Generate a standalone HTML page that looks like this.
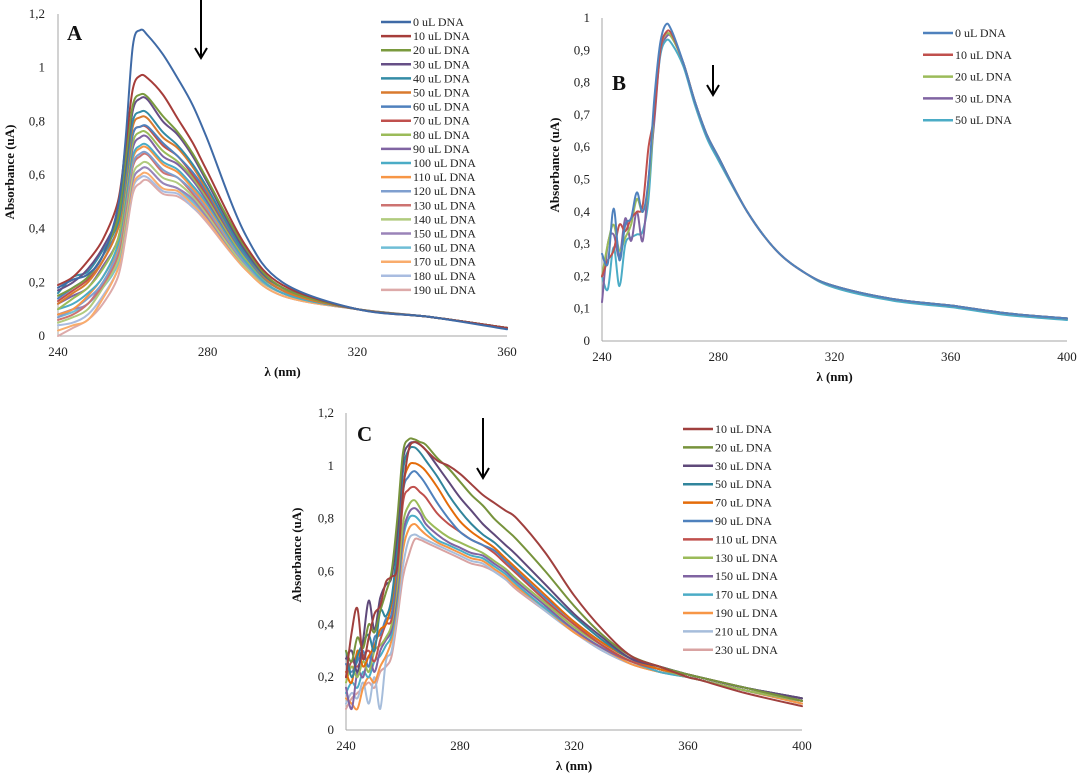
<!DOCTYPE html>
<html><head><meta charset="utf-8">
<style>
html,body{margin:0;padding:0;background:#fff;}
svg{display:block;font-family:"Liberation Serif",serif;}
</style></head>
<body>
<svg id="fig" width="1079" height="777" viewBox="0 0 1079 777" xmlns="http://www.w3.org/2000/svg"></svg>
<script>
// ---------- Panel A data ----------
const aWavelengths=[240,244,248,252,256,258,260,262,264,268,272,276,280,290,300,320,340,360];
const aLabels=["0 uL DNA","10 uL DNA","20 uL DNA","30 uL DNA","40 uL DNA","50 uL DNA","60 uL DNA","70 uL DNA","80 uL DNA","90 uL DNA","100 uL DNA","110 uL DNA","120 uL DNA","130 uL DNA","140 uL DNA","150 uL DNA","160 uL DNA","170 uL DNA","180 uL DNA","190 uL DNA"];
const aValues=[
[.18,.21,.23,.30,.48,.72,1.08,1.14,1.12,1.05,.96,.86,.73,.38,.20,.10,.07,.025],
[.19,.22,.28,.36,.50,.70,.92,.97,.96,.90,.81,.72,.61,.34,.19,.10,.07,.03],
[.15,.18,.22,.30,.44,.65,.86,.90,.89,.82,.76,.68,.58,.33,.18,.10,.07,.03],
[.17,.20,.25,.33,.45,.63,.84,.885,.88,.80,.75,.67,.57,.32,.18,.10,.07,.03],
[.16,.22,.24,.32,.42,.60,.80,.835,.83,.76,.71,.64,.55,.31,.18,.10,.07,.03],
[.12,.16,.20,.28,.40,.58,.78,.815,.81,.74,.70,.63,.54,.31,.17,.10,.07,.03],
[.14,.18,.22,.30,.40,.56,.75,.78,.78,.72,.67,.61,.53,.30,.17,.10,.07,.03],
[.13,.17,.21,.28,.40,.56,.75,.78,.775,.71,.67,.60,.52,.30,.17,.10,.07,.03],
[.10,.14,.18,.25,.36,.53,.72,.76,.755,.69,.65,.59,.51,.29,.17,.10,.07,.03],
[.12,.15,.18,.26,.36,.52,.70,.74,.74,.67,.64,.58,.50,.29,.17,.10,.07,.03],
[.10,.12,.16,.22,.34,.50,.67,.71,.71,.65,.62,.56,.49,.28,.16,.10,.07,.03],
[.08,.10,.15,.22,.33,.49,.66,.70,.70,.64,.61,.55,.48,.28,.16,.10,.07,.03],
[.07,.10,.14,.20,.32,.48,.64,.68,.68,.62,.59,.54,.47,.27,.16,.10,.07,.03],
[.06,.08,.12,.19,.30,.46,.63,.67,.675,.61,.59,.53,.46,.27,.16,.10,.07,.03],
[.05,.07,.10,.18,.28,.43,.60,.64,.645,.59,.57,.52,.45,.26,.16,.10,.07,.03],
[.08,.10,.12,.20,.28,.42,.58,.62,.625,.57,.55,.51,.44,.26,.16,.10,.07,.03],
[.07,.09,.12,.18,.27,.42,.58,.62,.625,.57,.55,.50,.44,.26,.16,.10,.07,.03],
[.02,.04,.06,.14,.25,.40,.56,.60,.605,.55,.54,.49,.43,.25,.15,.10,.07,.03],
[.04,.05,.08,.15,.25,.39,.55,.59,.59,.54,.53,.48,.43,.25,.15,.10,.07,.03],
[.00,.03,.06,.12,.22,.36,.53,.57,.58,.53,.52,.48,.42,.25,.15,.10,.07,.03]];
const aColors=["#3F6AA6","#A63D3A","#7A9A3E","#664F86","#348CA6","#D97A2E","#4F81BD","#C0504D","#9BBB59","#8064A2","#4BACC6","#F79646","#7F9FCF","#CD7371","#B1CB7E","#9A83B8","#6FBED6","#F9AC6C","#A9BCE0","#DDAAA9"];
const aXTicks=[240,280,320,360];
const aYTicks=[0,0.2,0.4,0.6,0.8,1,1.2];

// ---------- Panel B data ----------
const bWavelengths=[240,242,244,246,248,250,252,254,256,258,260,262,264,268,272,276,280,290,300,310,320,340,360,364,380,400];
const bLabels=["0 uL DNA","10 uL DNA","20 uL DNA","30 uL DNA","50 uL DNA"];
const bValues=[
[.27,.24,.41,.25,.36,.38,.46,.40,.50,.75,.92,.98,.96,.86,.74,.64,.57,.40,.28,.21,.17,.13,.11,.105,.085,.07],
[.20,.25,.28,.36,.34,.38,.40,.42,.60,.70,.90,.955,.95,.86,.74,.64,.57,.40,.28,.21,.17,.13,.11,.105,.085,.07],
[.20,.30,.36,.28,.32,.36,.44,.40,.48,.72,.90,.95,.94,.86,.74,.64,.57,.40,.28,.21,.17,.13,.11,.105,.085,.07],
[.12,.30,.33,.26,.38,.31,.40,.31,.50,.68,.89,.94,.94,.86,.74,.64,.57,.40,.28,.21,.17,.13,.11,.105,.085,.07],
[.20,.16,.29,.17,.30,.32,.33,.34,.44,.70,.88,.93,.92,.85,.73,.63,.56,.40,.28,.21,.165,.125,.105,.10,.08,.065]];
const bColors=["#4F81BD","#C0504D","#9BBB59","#8064A2","#4BACC6"];
const bXTicks=[240,280,320,360,400];
const bYTicks=[0,0.1,0.2,0.3,0.4,0.5,0.6,0.7,0.8,0.9,1];

// ---------- Panel C data ----------
const cWavelengths=[240,242,244,246,248,250,252,254,256,258,260,262,264,266,268,272,276,280,284,288,292,296,300,310,320,330,340,350,360,364,380,400];
const cLabels=["10 uL DNA","20 uL DNA","30 uL DNA","50 uL DNA","70 uL DNA","90 uL DNA","110 uL DNA","130 uL DNA","150 uL DNA","170 uL DNA","190 uL DNA","210 uL DNA","230 uL DNA"];
const cValues=[
[.20,.37,.46,.27,.35,.44,.47,.56,.58,.62,.90,1.06,1.09,1.08,1.06,1.02,1.00,.97,.93,.89,.86,.83,.80,.67,.51,.38,.28,.24,.20,.19,.14,.09],
[.30,.26,.35,.31,.40,.37,.45,.52,.60,.80,1.05,1.10,1.10,1.09,1.08,1.03,.99,.94,.89,.85,.80,.76,.72,.60,.47,.36,.28,.24,.21,.20,.16,.11],
[.27,.30,.22,.34,.49,.38,.50,.55,.58,.75,1.02,1.08,1.09,1.08,1.06,1.00,.94,.88,.83,.78,.74,.70,.66,.55,.44,.35,.27,.24,.21,.20,.16,.12],
[.30,.20,.28,.33,.36,.30,.45,.43,.50,.70,.98,1.06,1.07,1.05,1.02,.96,.89,.83,.78,.74,.71,.67,.63,.53,.43,.34,.27,.24,.21,.20,.16,.12],
[.22,.18,.30,.24,.28,.32,.38,.40,.48,.65,.92,1.00,1.01,1.00,.98,.92,.85,.79,.75,.72,.69,.65,.61,.51,.41,.33,.27,.23,.21,.20,.16,.12],
[.25,.22,.26,.30,.24,.35,.36,.42,.44,.62,.90,.96,.98,.96,.93,.86,.80,.75,.72,.70,.68,.64,.60,.50,.41,.33,.27,.23,.21,.20,.16,.12],
[.20,.26,.24,.28,.30,.26,.34,.40,.42,.60,.86,.91,.92,.90,.88,.82,.78,.75,.72,.70,.67,.63,.59,.49,.40,.32,.26,.23,.21,.20,.16,.11],
[.18,.24,.20,.26,.22,.30,.32,.35,.40,.55,.78,.85,.87,.84,.80,.76,.73,.71,.69,.67,.64,.61,.57,.48,.39,.32,.26,.23,.20,.19,.15,.11],
[.16,.08,.22,.20,.28,.22,.30,.34,.38,.52,.74,.82,.84,.82,.78,.74,.71,.69,.67,.66,.63,.60,.56,.47,.38,.31,.26,.23,.20,.19,.15,.11],
[.14,.18,.16,.22,.20,.26,.28,.32,.36,.50,.72,.80,.81,.79,.76,.72,.70,.68,.66,.65,.62,.59,.55,.46,.38,.31,.26,.22,.20,.19,.15,.11],
[.12,.10,.08,.16,.20,.18,.24,.28,.34,.48,.68,.76,.78,.76,.74,.71,.69,.67,.65,.64,.61,.58,.54,.46,.37,.31,.25,.22,.20,.19,.15,.10],
[.10,.14,.12,.18,.10,.20,.08,.26,.30,.45,.62,.72,.74,.73,.72,.70,.68,.66,.64,.63,.60,.57,.54,.45,.37,.30,.25,.22,.20,.19,.15,.10],
[.08,.12,.14,.16,.18,.16,.22,.24,.28,.42,.58,.66,.72,.72,.71,.69,.67,.65,.63,.62,.60,.57,.53,.45,.37,.30,.25,.22,.20,.19,.15,.10]];
const cColors=["#A0403E","#77933C","#5F497A","#31859C","#E46C0A","#4F81BD","#C0504D","#9BBB59","#8064A2","#4BACC6","#F79646","#A6BDDB","#D9A3A2"];
const cXTicks=[240,280,320,360,400];
const cYTicks=[0,0.2,0.4,0.6,0.8,1,1.2];

const NS="http://www.w3.org/2000/svg";
const svg=document.getElementById('fig');
function mk(tag,attrs,parent){const e=document.createElementNS(NS,tag);for(const k in attrs)e.setAttribute(k,attrs[k]);(parent||svg).appendChild(e);return e;}
function fmt(v){return String(Math.round(v*10)/10).replace('.',',');}
function smooth(pts){
  let d='M'+pts[0][0].toFixed(1)+','+pts[0][1].toFixed(1);
  for(let i=0;i<pts.length-1;i++){
    const p0=pts[i-1]||pts[i],p1=pts[i],p2=pts[i+1],p3=pts[i+2]||p2;
    const c1=[p1[0]+(p2[0]-p0[0])/6,p1[1]+(p2[1]-p0[1])/6];
    const c2=[p2[0]-(p3[0]-p1[0])/6,p2[1]-(p3[1]-p1[1])/6];
    d+=' C'+c1[0].toFixed(1)+','+c1[1].toFixed(1)+' '+c2[0].toFixed(1)+','+c2[1].toFixed(1)+' '+p2[0].toFixed(1)+','+p2[1].toFixed(1);
  }
  return d;
}

function panel(p){
  const g=mk('g',{});
  
  
  const sx=w=>p.x0+(w-p.xmin)/(p.xmax-p.xmin)*(p.x1-p.x0);
  const sy=v=>p.y0-(v-p.ymin)/(p.ymax-p.ymin)*(p.y0-p.y1);
  const yl=mk('line',{x1:p.x0,y1:p.y1,x2:p.x0,y2:p.y0,stroke:'#a6a6a6','stroke-width':1},g);
  
  
  const xl=mk('line',{x1:p.x0,y1:p.y0,x2:p.x1,y2:p.y0,stroke:'#a6a6a6','stroke-width':1},g);
  
  
  p.yTicks.forEach(v=>{
    const t=mk('text',{x:p.ytx,y:sy(v)+4,'text-anchor':'end','font-size':13,fill:'#222'},g);
    t.textContent=fmt(v);
    
    
  });
  p.xTicks.forEach(v=>{
    const t=mk('text',{x:sx(v),y:p.y0+20,'text-anchor':'middle','font-size':13,fill:'#222'},g);
    t.textContent=String(v);
    
    
  });
  const xt=mk('text',{x:(p.x0+p.x1)/2,y:p.y0+40,'text-anchor':'middle','font-size':13,'font-weight':'bold',fill:'#111'},g);
  xt.textContent='λ (nm)';
  
  
  const yt=mk('text',{x:0,y:0,'text-anchor':'middle','font-size':13,'font-weight':'bold',fill:'#111',transform:`translate(${p.ytitleX},${p.ytitleY}) rotate(-90)`},g);
  yt.textContent='Absorbance  (uA)';
  
  
  for(let i=p.values.length-1;i>=0;i--){
    const pts=p.values[i].map((v,j)=>[sx(p.wl[j]),sy(v)]);
    const path=mk('path',{d:smooth(pts),fill:'none',stroke:p.colors[i],'stroke-width':2,'stroke-linejoin':'round','stroke-linecap':'round'},g);
    
    
  }
  p.labels.forEach((lab,i)=>{
    const y=p.ly+i*p.lstep;
    const ll=mk('line',{x1:p.lx,y1:y,x2:p.lx+30,y2:y,stroke:p.colors[i],'stroke-width':2.5},g);
    
    
    const lt=mk('text',{x:p.lx+32,y:y+4,'font-size':12,fill:'#222'},g);
    lt.textContent=lab;
    
    
  });
  const L=mk('text',{x:p.letX,y:p.letY,'font-size':21,'font-weight':'bold',fill:'#111'},g);
  L.textContent=p.letter;
  
  
  const ar=mk('line',{x1:p.arX,y1:p.arY1,x2:p.arX,y2:p.arY2,stroke:'#000','stroke-width':2},g);
  
  
  const ah=mk('path',{d:`M${p.arX-6},${p.arY2-10} L${p.arX},${p.arY2} L${p.arX+6},${p.arY2-10}`,fill:'none',stroke:'#000','stroke-width':2},g);
  
  
}

panel({id:'panel-a',letter:'A',wl:aWavelengths,values:aValues,labels:aLabels,colors:aColors,xTicks:aXTicks,yTicks:aYTicks,
  xmin:240,xmax:360,ymin:0,ymax:1.2,x0:58,x1:507,y0:336,y1:14,ytx:45,ytitleX:14,ytitleY:172,
  lx:381,ly:22,lstep:14.1,letX:67,letY:40,arX:201,arY1:0,arY2:58});
panel({id:'panel-b',letter:'B',wl:bWavelengths,values:bValues,labels:bLabels,colors:bColors,xTicks:bXTicks,yTicks:bYTicks,
  xmin:240,xmax:400,ymin:0,ymax:1,x0:602,x1:1067,y0:341,y1:18,ytx:590,ytitleX:559,ytitleY:165,
  lx:923,ly:33,lstep:21.8,letX:612,letY:90,arX:713,arY1:65,arY2:95});
panel({id:'panel-c',letter:'C',wl:cWavelengths,values:cValues,labels:cLabels,colors:cColors,xTicks:cXTicks,yTicks:cYTicks,
  xmin:240,xmax:400,ymin:0,ymax:1.2,x0:346,x1:802,y0:730,y1:413,ytx:334,ytitleX:301,ytitleY:555,
  lx:683,ly:429,lstep:18.4,letX:357,letY:441,arX:483,arY1:418,arY2:478});
</script>
</body></html>
